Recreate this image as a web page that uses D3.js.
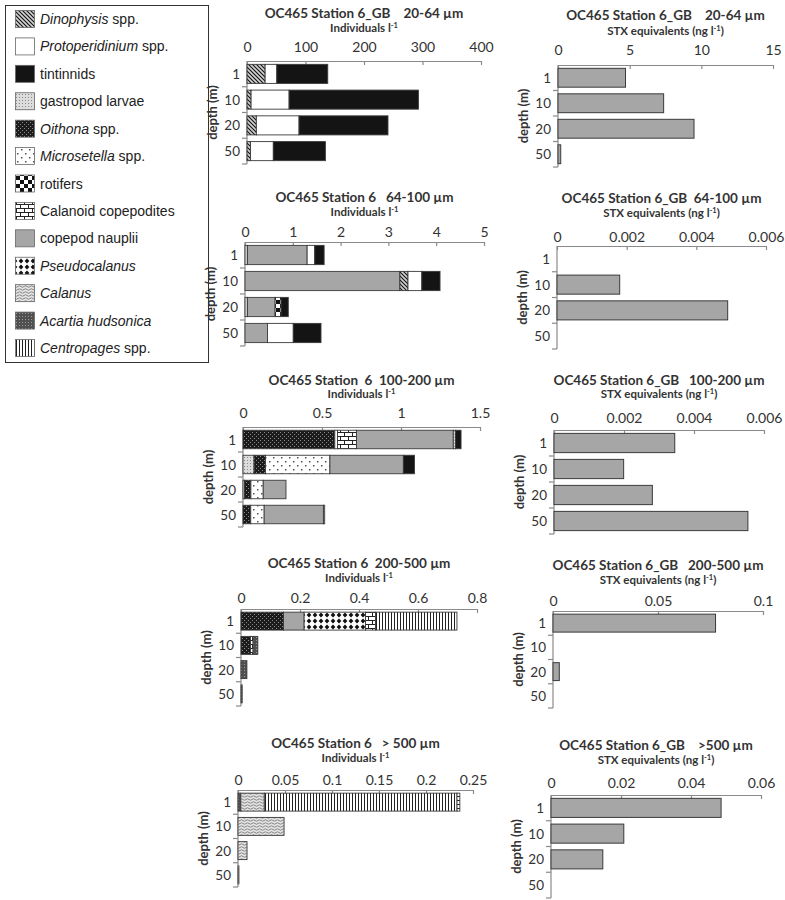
<!DOCTYPE html>
<html><head><meta charset="utf-8">
<script src="https://cdn.jsdelivr.net/npm/d3@7"></script>
<style>body{margin:0;background:#fff}text{white-space:pre}</style>
</head><body><svg id="c" width="785" height="900" xmlns="http://www.w3.org/2000/svg"></svg>
<script>
// ---------- data ----------
const depths = ["1", "10", "20", "50"];
const speciesIds = ["dino","proto","tint","gastro","oith","micro","rot","cal","naup","pseudo","calanus","acartia","centro"];
const speciesItalic = ["Dinophysis","Protoperidinium","","","Oithona","Microsetella","","","","Pseudocalanus","Calanus","Acartia hudsonica","Centropages"];
const speciesPlain  = [" spp."," spp.","tintinnids","gastropod larvae"," spp."," spp.","rotifers","Calanoid copepodites","copepod nauplii","","",""," spp."];

// left panels: stacked abundance (Individuals l-1)
const p1Keys = ["dino","proto","tint"];
const p1Values = [[31,20,87],[7,65,221],[16,73,152],[6,39,89]];
const p1Ticks = [0,100,200,300,400];

const p2Keys = ["gastro","naup","dino","rot","proto","tint"];
const p2Values = [[0.05,1.25,0,0,0.16,0.195],[0,3.24,0.17,0,0.29,0.38],[0.05,0.58,0,0.125,0,0.15],[0,0.47,0,0,0.54,0.58]];
const p2Ticks = [0,1,2,3,4,5];

const p3Keys = ["gastro","oith","proto","micro","cal","naup","calanus","tint"];
const p3Values = [[0,0.581,0.017,0,0.12,0.613,0.015,0.034],[0.07,0.072,0,0.408,0,0.465,0,0.07],[0.01,0.04,0,0.078,0,0.144,0,0],[0,0.049,0,0.085,0,0.375,0.008,0]];
const p3Ticks = [0,0.5,1,1.5];

const p4Keys = ["oith","naup","pseudo","cal","acartia","centro"];
const p4Values = [[0.144,0.07,0.208,0.034,0,0.276],[0.032,0,0,0.009,0.016,0],[0,0,0,0,0.02,0],[0,0,0,0,0.004,0]];
const p4Ticks = [0,0.2,0.4,0.6,0.8];

const p5Keys = ["acartia","calanus","centro","cal"];
const p5Values = [[0.003,0.025,0.205,0.003],[0,0.049,0,0],[0,0.0096,0,0],[0,0.001,0,0]];
const p5Ticks = [0,0.05,0.1,0.15,0.2,0.25];

const leftTitles = ["OC465 Station 6_GB    20-64 µm","OC465 Station 6   64-100 µm","OC465 Station  6  100-200 µm","OC465 Station 6  200-500 µm","OC465 Station 6   > 500 µm"];

// right panels: STX equivalents (ng l-1)
const r1Values = [4.71,7.37,9.49,0.19];
const r1Ticks = [0,5,10,15];
const r2Values = [0,0.0018,0.0049,0];
const r2Ticks = [0,0.002,0.004,0.006];
const r3Values = [0.00345,0.00199,0.00281,0.00554];
const r3Ticks = [0,0.002,0.004,0.006];
const r4Values = [0.0774,0,0.003,0];
const r4Ticks = [0,0.05,0.1];
const r5Values = [0.0486,0.0208,0.0148,0];
const r5Ticks = [0,0.02,0.04,0.06];
const rightTitles = ["OC465 Station 6_GB    20-64 µm","OC465 Station 6_GB  64-100 µm","OC465 Station 6_GB   100-200 µm","OC465 Station 6_GB   200-500 µm","OC465 Station 6_GB    >500 µm"];

// ---------- layout ----------
const leftLayout = [
  {x0:247,x1:481,axisY:61,bottom:164,titleY:13,subY:28,tickY:47},
  {x0:245,x1:484,axisY:242,bottom:346,titleY:197,subY:212,tickY:232},
  {x0:243,x1:480,axisY:427,bottom:527,titleY:380,subY:394,tickY:413},
  {x0:241,x1:477,axisY:609,bottom:706,titleY:563,subY:578,tickY:598},
  {x0:238,x1:473,axisY:790,bottom:887,titleY:743,subY:758,tickY:780}
];
const rightLayout = [
  {x0:558,x1:773,axisY:65,bottom:167,titleY:15,subY:31,tickY:50},
  {x0:557,x1:766,axisY:246,bottom:349,titleY:198,subY:213,tickY:237},
  {x0:554,x1:764,axisY:430,bottom:534,titleY:380,subY:394,tickY:418},
  {x0:553,x1:763,axisY:611,bottom:708,titleY:565,subY:580,tickY:601},
  {x0:551,x1:761,axisY:795,bottom:898,titleY:745,subY:760,tickY:783}
];

const svg = d3.select("#c");
const TXT = "#333";
const AX = "#8a8a8a";
const TITLE_FONT = "Lato, 'Open Sans', sans-serif";

// ---------- patterns ----------
const defs = svg.append("defs");
function pat(id, w, h, bg, draw){
  const p = defs.append("pattern").attr("id","pat-"+id).attr("patternUnits","userSpaceOnUse").attr("width",w).attr("height",h);
  p.append("rect").attr("width",w).attr("height",h).attr("fill",bg);
  if (draw) draw(p);
}
pat("dino",4,4,"#d0d0d0",p=>p.append("path").attr("d","M-1,-1L5,5M-1,3L1,5M3,-1L5,1").attr("stroke","#111").attr("stroke-width",1.1));
pat("proto",4,4,"#ffffff");
pat("tint",4,4,"#141414");
pat("gastro",3,3,"#dcdcdc",p=>p.append("rect").attr("x",1).attr("y",1).attr("width",1).attr("height",1).attr("fill","#8c8c8c"));
pat("oith",4,4,"#1c1c1c",p=>{p.append("rect").attr("x",0).attr("y",0).attr("width",1).attr("height",1).attr("fill","#8a8a8a");p.append("rect").attr("x",2).attr("y",2).attr("width",1).attr("height",1).attr("fill","#8a8a8a");});
pat("micro",8,8,"#ffffff",p=>{p.append("rect").attr("x",1).attr("y",1).attr("width",1.5).attr("height",1.5).attr("fill","#555");p.append("rect").attr("x",5).attr("y",5).attr("width",1.5).attr("height",1.5).attr("fill","#555");});
pat("rot",8,8,"#ffffff",p=>{p.append("rect").attr("width",4).attr("height",4).attr("fill","#111");p.append("rect").attr("x",4).attr("y",4).attr("width",4).attr("height",4).attr("fill","#111");});
pat("cal",8,8,"#ffffff",p=>p.append("path").attr("d","M0,0.5H8M0,4.5H8M0.5,0.5V4.5M4.5,4.5V8.5").attr("stroke","#222").attr("stroke-width",1).attr("fill","none"));
pat("naup",4,4,"#a6a6a6");
pat("pseudo",6,6,"#ffffff",p=>p.append("path").attr("d","M3,0.6L5.4,3L3,5.4L0.6,3Z").attr("fill","#111"));
pat("calanus",6,6,"#e4e4e4",p=>p.append("path").attr("d","M0,1.5Q1.5,0 3,1.5T6,1.5M0,4.5Q1.5,3 3,4.5T6,4.5").attr("stroke","#777").attr("stroke-width",0.9).attr("fill","none"));
pat("acartia",3,3,"#505050",p=>p.append("rect").attr("x",1).attr("y",1).attr("width",1).attr("height",1).attr("fill","#9a9a9a"));
pat("centro",3,3,"#ffffff",p=>p.append("rect").attr("x",1).attr("y",0).attr("width",1).attr("height",3).attr("fill","#222"));

// ---------- legend ----------
const lg = svg.append("g");
lg.append("rect").attr("x",5.5).attr("y",5.5).attr("width",203).attr("height",357).attr("fill","#fff").attr("stroke","#333").attr("stroke-width",1);
const ly = d3.scaleLinear().domain([0, speciesIds.length-1]).range([19, 348]);
speciesIds.forEach((id,i)=>{
  const cy = ly(i);
  lg.append("rect").attr("x",15.5).attr("y",cy-8.5).attr("width",19).attr("height",17).attr("fill","url(#pat-"+id+")").attr("stroke","#666").attr("stroke-width",0.8);
  const t = lg.append("text").attr("x",40).attr("y",cy+5).attr("font-family","'Liberation Sans', Arial, sans-serif").attr("font-size",14).attr("fill","#222");
  if (speciesItalic[i]) t.append("tspan").attr("font-style","italic").text(speciesItalic[i]);
  if (speciesPlain[i]) t.append("tspan").text(speciesPlain[i]);
});

// ---------- panel drawing ----------
function frame(L, title, subMain, subSup, subEnd, ticks){
  const g = svg.append("g");
  const x = d3.scaleLinear().domain([ticks[0], ticks[ticks.length-1]]).range([L.x0, L.x1]);
  const y = d3.scaleBand().domain(depths).range([L.axisY, L.bottom]).paddingInner(0.26).paddingOuter(0.13);
  const cx = (L.x0 + L.x1)/2;
  g.append("text").attr("x",cx).attr("y",L.titleY+5).attr("text-anchor","middle").attr("font-family",TITLE_FONT).attr("font-weight","bold").attr("font-size",13.5).attr("fill",TXT).text(title);
  const st = g.append("text").attr("x",cx).attr("y",L.subY+4).attr("text-anchor","middle").attr("font-family",TITLE_FONT).attr("font-weight","bold").attr("font-size",11.5).attr("fill",TXT);
  st.append("tspan").text(subMain);
  st.append("tspan").attr("font-size",7.5).attr("dy",-4).text(subSup);
  if (subEnd) st.append("tspan").attr("dy",4).text(subEnd);
  const fmt = v => String(+v.toFixed(4));
  const ax = g.append("g").attr("transform",`translate(0,${L.axisY})`)
    .call(d3.axisTop(x).tickValues(ticks).tickFormat(fmt).tickSizeInner(-4).tickSizeOuter(0).tickPadding(L.axisY-(L.tickY+5)));
  ax.select(".domain").attr("stroke",AX).attr("stroke-width",1.2);
  ax.selectAll(".tick line").attr("stroke",AX).attr("stroke-width",1.2);
  ax.selectAll(".tick text").attr("font-family",TITLE_FONT).attr("font-size",14).attr("fill",TXT);
  // vertical category axis
  g.append("line").attr("x1",L.x0).attr("x2",L.x0).attr("y1",L.axisY).attr("y2",L.bottom).attr("stroke",AX).attr("stroke-width",1.2);
  const bounds = d3.range(1, depths.length+1).map(k=>L.axisY + k*(L.bottom-L.axisY)/depths.length);
  g.selectAll(".yt").data(bounds).join("line").attr("x1",L.x0-5).attr("x2",L.x0).attr("y1",d=>d).attr("y2",d=>d).attr("stroke",AX).attr("stroke-width",1.2);
  g.selectAll(".yl").data(depths).join("text").attr("x",L.x0-7).attr("y",d=>y(d)+y.bandwidth()/2+5).attr("text-anchor","end")
    .attr("font-family",TITLE_FONT).attr("font-size",13.5).attr("fill",TXT).text(d=>d);
  g.append("text").attr("transform",`translate(${L.x0-30},${(L.axisY+L.bottom)/2}) rotate(-90)`).attr("text-anchor","middle")
    .attr("font-family",TITLE_FONT).attr("font-weight","bold").attr("font-size",13).attr("fill",TXT).text("depth (m)");
  return {g,x,y};
}

const leftPanels = [
  {keys:p1Keys, values:p1Values, ticks:p1Ticks},
  {keys:p2Keys, values:p2Values, ticks:p2Ticks},
  {keys:p3Keys, values:p3Values, ticks:p3Ticks},
  {keys:p4Keys, values:p4Values, ticks:p4Ticks},
  {keys:p5Keys, values:p5Values, ticks:p5Ticks}
];
leftPanels.forEach((P,i)=>{
  const {g,x,y} = frame(leftLayout[i], leftTitles[i], "Individuals l", "-1", "", P.ticks);
  const rows = depths.map((d,j)=>{ const o={depth:d}; P.keys.forEach((k,m)=>o[k]=P.values[j][m]); return o; });
  const series = d3.stack().keys(P.keys)(rows);
  series.forEach(s=>{
    g.selectAll(null).data(s.filter(d=>d[1]-d[0]>0)).join("rect")
      .attr("x",d=>x(d[0])).attr("width",d=>x(d[1])-x(d[0]))
      .attr("y",d=>y(d.data.depth)).attr("height",y.bandwidth())
      .attr("fill","url(#pat-"+s.key+")").attr("stroke","#3a3a3a").attr("stroke-width",0.9);
  });
});

const rightPanels = [
  {values:r1Values, ticks:r1Ticks},
  {values:r2Values, ticks:r2Ticks},
  {values:r3Values, ticks:r3Ticks},
  {values:r4Values, ticks:r4Ticks},
  {values:r5Values, ticks:r5Ticks}
];
rightPanels.forEach((P,i)=>{
  const {g,x,y} = frame(rightLayout[i], rightTitles[i], "STX equivalents (ng l", "-1", ")", P.ticks);
  g.selectAll(null).data(depths.map((d,j)=>({depth:d,v:P.values[j]})).filter(d=>d.v>0)).join("rect")
    .attr("x",x(0)).attr("width",d=>x(d.v)-x(0))
    .attr("y",d=>y(d.depth)).attr("height",y.bandwidth())
    .attr("fill","#a6a6a6").attr("stroke","#3a3a3a").attr("stroke-width",1);
});
</script>
</body></html>
